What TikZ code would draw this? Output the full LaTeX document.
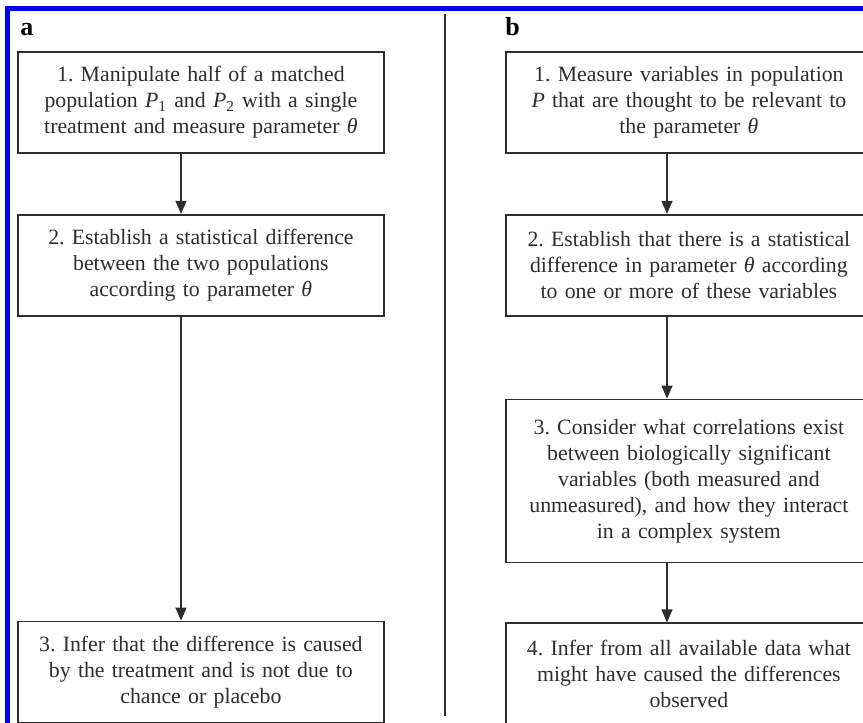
\documentclass[tikz,border=0pt]{standalone}
\usepackage{fontspec}
\setmainfont{Liberation Serif}
\usetikzlibrary{positioning,arrows.meta}

\definecolor{frameblue}{RGB}{0,0,245}
\definecolor{inkgray}{RGB}{45,45,45}

\begin{document}
\frenchspacing
\begin{tikzpicture}[
    x=0.5pt, y=-0.5pt,
    stepbox/.style={draw=inkgray, line width=0.9pt, text=inkgray, minimum width=183pt,
        minimum height=50.5pt, text width=178pt, align=center, inner sep=0pt,
        font=\fontsize{10.9}{13}\selectfont},
    flow/.style={draw=inkgray, line width=0.7pt, -{Triangle[width=5.5pt,length=6.5pt]}},
    panel/.style={font=\fontsize{13}{15}\selectfont\bfseries, inner sep=0pt, anchor=base west}
]
    \useasboundingbox (0,0) rectangle (863,723);
    \clip (0,0) rectangle (863,723);
    \fill[frameblue] (5,6) rectangle (863,11);
    \fill[frameblue] (5,6) rectangle (10,723);
    \draw[inkgray, line width=0.9pt] (445,14) -- (445,716);

    \node[panel] (la) at (20,35) {a};
    \node[panel] (lb) at (505,35) {b};

    \node[stepbox, anchor=north west] (a1) at (17,51)
        {1. Manipulate half of a matched\\ population \textit{P}\textsubscript{1} and \textit{P}\textsubscript{2} with a single\\ treatment and measure parameter \textit{θ}};
    \node[stepbox, below=30pt of a1] (a2)
        {2. Establish a statistical difference\\ between the two populations\\ according to parameter \textit{θ}};
    \node[stepbox, below=152pt of a2] (a3)
        {3. Infer that the difference is caused\\ by the treatment and is not due to\\ chance or placebo};

    \node[stepbox, anchor=north west] (b1) at (505,51)
        {1. Measure variables in population\\ \textit{P} that are thought to be relevant to\\ the parameter \textit{θ}};
    \node[stepbox, below=30pt of b1] (b2)
        {2. Establish that there is a statistical\\ difference in parameter \textit{θ} according\\ to one or more of these variables};
    \node[stepbox, minimum height=81.5pt, below=41pt of b2] (b3)
        {3. Consider what correlations exist\\ between biologically significant\\ variables (both measured and\\ unmeasured), and how they interact\\ in a complex system};
    \node[stepbox, below=29.5pt of b3] (b4)
        {4. Infer from all available data what\\ might have caused the differences\\ observed};

    \coordinate (ax) at (181,0);
    \coordinate (bx) at (667,0);
    \draw[flow] (a1.south -| ax) -- (a2.north -| ax);
    \draw[flow] (a2.south -| ax) -- (a3.north -| ax);
    \draw[flow] (b1.south -| bx) -- (b2.north -| bx);
    \draw[flow] (b2.south -| bx) -- (b3.north -| bx);
    \draw[flow] (b3.south -| bx) -- (b4.north -| bx);
\end{tikzpicture}
\end{document}
